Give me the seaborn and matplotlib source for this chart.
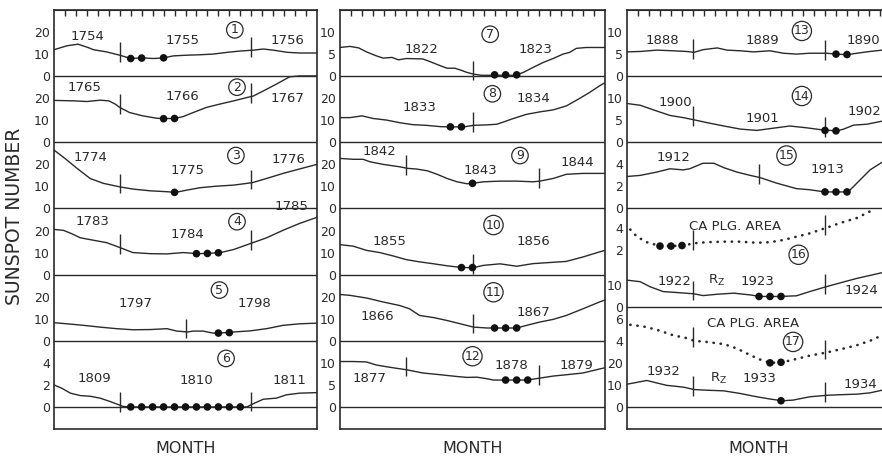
import matplotlib
matplotlib.use("Agg")
import numpy as np
import pandas as pd
import matplotlib.pyplot as plt
from matplotlib.ticker import MultipleLocator
import seaborn as sns

# ---------------------------------------------------------------------------
# Data.  month = position inside the 24-month window of
# each panel column, value = sunspot number (or Ca plage area).
# *_min = months flagged as minimum (filled dots), *_jan = January marks.
# ---------------------------------------------------------------------------
c1_month = [0, 1.2, 2.2, 3.1, 3.6, 4.8, 6.0, 7.0, 8.0, 9.1, 10.0, 10.9, 12.1, 13.3, 14.5, 15.8, 17.0, 18.2, 19.1, 20.0, 21.3, 22.4, 24]
c1_value = [12.0, 13.8, 14.5, 13.0, 12.0, 11.0, 9.5, 8.0, 8.3, 8.0, 8.3, 9.2, 9.5, 9.7, 10.0, 10.8, 11.4, 11.8, 12.3, 11.8, 10.8, 10.5, 10.5]
c1_min, c1_min_val = [7, 8, 10], [8.0, 8.2, 8.3]
c1_years, c1_jan = ["1754", "1755", "1756"], [6, 18]

c2_month = [0, 1.8, 3.0, 4.2, 5.0, 5.6, 6.0, 6.9, 8.1, 9.4, 10.0, 11.0, 11.8, 12.7, 13.9, 15.1, 16.4, 17.6, 18.2, 19.1, 20.3, 21.5, 22.4, 24]
c2_value = [19.0, 18.8, 18.5, 19.1, 18.8, 17.3, 15.8, 13.5, 12.0, 10.9, 10.8, 10.8, 11.7, 13.5, 15.8, 17.3, 18.8, 20.3, 21.0, 23.3, 26.4, 29.7, 30.1, 30.1]
c2_min, c2_min_val = [10, 11], [10.7, 10.8]
c2_years, c2_jan = ["1765", "1766", "1767"], [6, 18]

c3_month = [0, 1.0, 2.1, 3.3, 4.5, 6.0, 7.2, 8.8, 10.3, 11.1, 12.1, 13.3, 14.8, 16.4, 18.1, 19.4, 20.9, 22.4, 24]
c3_value = [26.5, 22.7, 18.2, 13.6, 11.4, 9.8, 8.8, 8.0, 7.6, 7.3, 8.3, 9.4, 10.1, 10.6, 11.7, 13.6, 15.9, 17.9, 20.0]
c3_min, c3_min_val = [11], [7.3]
c3_years, c3_jan = ["1774", "1775", "1776"], [6, 18]

c4_month = [0, 0.85, 1.6, 2.4, 3.6, 4.8, 6.0, 7.2, 8.8, 10.3, 11.8, 13.2, 15.1, 16.4, 18.1, 19.4, 20.9, 22.4, 24]
c4_value = [20.5, 20.1, 18.6, 16.7, 15.6, 14.5, 12.3, 10.0, 9.5, 9.4, 10.0, 9.5, 9.9, 11.4, 14.4, 16.7, 20.1, 23.2, 26.0]
c4_min, c4_min_val = [13, 14, 15], [9.5, 9.6, 9.9]
c4_years, c4_jan = ["1783", "1784", "1785"], [6, 18]

c5_month = [0, 1.2, 2.7, 4.2, 5.7, 7.2, 8.8, 10.3, 11.2, 12.2, 12.7, 13.6, 14.5, 15.1, 16.4, 17.9, 19.4, 20.9, 22.4, 24]
c5_value = [8.2, 7.7, 7.0, 6.2, 5.5, 5.0, 5.1, 5.5, 4.4, 4.0, 4.4, 4.4, 3.5, 3.5, 4.0, 4.5, 5.5, 7.0, 7.7, 8.0]
c5_min, c5_min_val = [15, 16], [3.5, 3.7]
c5_years, c5_jan = ["1797", "1798"], [12]

c6_month = [0, 0.7, 1.5, 2.4, 3.3, 4.2, 5.1, 5.9, 6.3, 6.9, 17.6, 18.2, 19.1, 20.3, 21.2, 22.4, 24]
c6_value = [2.0, 1.7, 1.25, 1.03, 0.97, 0.8, 0.5, 0.2, 0.05, 0, 0, 0.3, 0.7, 0.8, 1.1, 1.25, 1.3]
c6_min = [7, 8, 9, 10, 11, 12, 13, 14, 15, 16, 17]
c6_min_val = [0, 0, 0, 0, 0, 0, 0, 0, 0, 0, 0]
c6_years, c6_jan = ["1809", "1810", "1811"], [6, 18]

c7_month = [0, 0.9, 1.7, 2.4, 3.3, 3.9, 4.7, 5.3, 6.0, 7.5, 8.2, 9.1, 9.7, 10.4, 10.9, 11.5, 12.1, 12.8, 15.9, 16.6, 17.5, 18.4, 19.3, 20.2, 20.8, 21.4, 22.3, 24]
c7_value = [6.5, 6.75, 6.4, 5.5, 4.6, 4.1, 4.25, 3.7, 4.0, 3.9, 3.25, 2.35, 1.8, 1.8, 1.4, 0.85, 0.45, 0.2, 0.2, 0.85, 2.0, 3.1, 4.0, 5.0, 5.4, 6.3, 6.5, 6.5]
c7_min, c7_min_val = [14, 15, 16], [0.3, 0.3, 0.3]
c7_years, c7_jan = ["1822", "1823"], [12]

c8_month = [0, 0.9, 2.0, 3.0, 4.2, 5.4, 6.6, 7.8, 9.1, 10.1, 11.2, 12.1, 13.3, 14.2, 14.8, 15.7, 16.9, 18.1, 19.3, 20.5, 21.7, 22.6, 23.5, 24]
c8_value = [11.2, 11.2, 12.0, 10.8, 10.1, 8.9, 8.0, 7.7, 7.1, 7.0, 7.0, 7.7, 7.9, 8.2, 9.2, 10.8, 12.7, 13.8, 14.7, 16.5, 19.9, 22.6, 25.6, 27.0]
c8_min, c8_min_val = [10, 11], [7.0, 7.0]
c8_years, c8_jan = ["1833", "1834"], [12]

c9_month = [0, 1.2, 2.1, 2.7, 3.9, 5.4, 6.1, 6.9, 7.9, 8.8, 9.7, 10.6, 11.5, 12.0, 13.0, 14.5, 16.0, 17.5, 18.1, 19.3, 20.5, 22.0, 24]
c9_value = [22.7, 22.3, 22.3, 21.2, 20.0, 18.9, 18.2, 17.9, 17.1, 15.5, 13.6, 12.1, 11.2, 11.4, 12.1, 12.4, 12.4, 12.1, 12.4, 13.6, 15.5, 15.9, 15.9]
c9_min, c9_min_val = [12], [11.4]
c9_years, c9_jan = ["1842", "1843", "1844"], [6, 18]

c10_month = [0, 1.2, 2.4, 3.6, 4.8, 6.0, 7.2, 8.5, 9.7, 11.1, 12.1, 13.0, 14.5, 16.0, 17.5, 19.0, 20.5, 22.0, 23.5, 24]
c10_value = [13.6, 12.9, 11.0, 10.0, 8.5, 6.8, 5.8, 4.9, 4.0, 3.2, 3.2, 4.2, 4.9, 3.8, 5.0, 5.5, 6.0, 8.0, 10.3, 11.0]
c10_min, c10_min_val = [11, 12], [3.2, 3.2]
c10_years, c10_jan = ["1855", "1856"], [12]

c11_month = [0, 0.9, 2.4, 3.9, 5.4, 6.3, 7.2, 8.5, 9.7, 10.9, 12.1, 13.3, 16.0, 16.9, 18.1, 19.3, 20.5, 22.0, 23.5, 24]
c11_value = [21.0, 20.6, 19.4, 17.6, 16.0, 14.5, 11.5, 10.5, 9.2, 7.7, 6.2, 5.8, 5.8, 7.0, 8.5, 9.7, 11.5, 14.5, 17.6, 18.5]
c11_min, c11_min_val = [14, 15, 16], [5.8, 5.8, 5.8]
c11_years, c11_jan = ["1866", "1867"], [12]

c12_month = [0, 1.2, 2.4, 3.3, 4.5, 6.1, 7.5, 9.1, 10.6, 11.5, 12.4, 13.3, 13.9, 16.9, 18.0, 19.3, 20.5, 22.0, 23.5, 24]
c12_value = [10.3, 10.3, 10.2, 9.5, 9.0, 8.4, 7.7, 7.3, 6.9, 6.7, 6.75, 6.4, 6.1, 6.1, 6.5, 7.0, 7.3, 7.7, 8.6, 8.9]
c12_min, c12_min_val = [15, 16, 17], [6.1, 6.1, 6.1]
c12_years, c12_jan = ["1877", "1878", "1879"], [6, 18]

c13_month = [0, 1.2, 2.7, 4.2, 5.4, 6.1, 6.9, 8.2, 9.1, 10.3, 11.5, 13.0, 14.2, 15.4, 16.6, 18.1, 19.1, 20.0, 20.9, 22.1, 23.2, 24]
c13_value = [5.5, 5.6, 5.9, 5.75, 5.6, 5.4, 6.0, 6.4, 5.9, 5.75, 5.5, 5.75, 5.2, 5.0, 5.2, 5.2, 5.0, 4.85, 5.2, 5.6, 5.9, 6.0]
c13_min, c13_min_val = [19, 20], [5.0, 4.9]
c13_years, c13_jan = ["1888", "1889", "1890"], [6, 18]

c14_month = [0, 1.2, 2.7, 3.9, 5.1, 6.1, 7.2, 8.8, 10.3, 11.8, 13.0, 14.8, 16.3, 17.8, 19.1, 19.7, 20.6, 21.8, 23.2, 24]
c14_value = [8.8, 8.4, 7.1, 6.1, 5.6, 5.1, 4.5, 3.7, 3.0, 2.7, 3.1, 3.7, 3.3, 2.8, 2.6, 3.0, 3.9, 4.1, 4.8, 5.0]
c14_min, c14_min_val = [18, 19], [2.7, 2.6]
c14_years, c14_jan = ["1900", "1901", "1902"], [6, 18]

c15_month = [0, 1.2, 2.7, 3.9, 5.1, 5.7, 6.9, 7.9, 8.8, 10.0, 11.2, 12.1, 13.6, 15.4, 16.6, 18.0, 20.1, 20.9, 22.1, 23.2, 24]
c15_value = [2.9, 3.0, 3.3, 3.6, 3.5, 3.6, 4.1, 4.1, 3.7, 3.3, 3.0, 2.8, 2.3, 1.8, 1.7, 1.5, 1.5, 2.3, 3.5, 4.2, 4.6]
c15_min, c15_min_val = [18, 19, 20], [1.5, 1.5, 1.5]
c15_years, c15_jan = ["1912", "1913"], [12]

# cycle 16: Ca plage area (dotted) and Rz
c16ca_month = [0.3, 0.9, 1.8, 3.0, 4.1, 5.1, 6.1, 7.2, 8.8, 10.3, 11.8, 13.0, 14.2, 15.4, 16.6, 18.1, 19.4, 20.9, 22.1]
c16ca_value = [3.85, 3.2, 2.7, 2.35, 2.35, 2.4, 2.6, 2.7, 2.75, 2.75, 2.65, 2.7, 2.9, 3.2, 3.5, 4.0, 4.45, 4.9, 5.5]
c16ca_min, c16ca_min_val = [3, 4, 5], [2.35, 2.35, 2.4]
c16ca_jan = [6, 18]

c16_month = [0, 1.2, 2.1, 3.3, 4.5, 6.1, 6.9, 8.2, 9.7, 11.2, 12.1, 13.9, 15.4, 16.6, 18.1, 19.7, 20.9, 23.2, 24]
c16_value = [12.0, 11.3, 9.0, 6.8, 6.4, 5.8, 5.0, 5.6, 6.1, 5.3, 4.6, 4.6, 4.9, 6.8, 9.0, 11.2, 12.8, 15.4, 16.0]
c16_min, c16_min_val = [12, 13, 14], [4.6, 4.6, 4.6]
c16_years, c16_jan = ["1922", "1923", "1924"], [6, 18]

# cycle 17: Ca plage area (dotted) and Rz
c17ca_month = [0.3, 1.5, 2.7, 4.2, 5.4, 6.1, 7.2, 8.8, 10.0, 11.2, 12.1, 13.0, 14.1, 15.4, 16.6, 18.2, 19.7, 20.9, 22.1, 23.2, 24]
c17ca_value = [5.45, 5.3, 5.0, 4.5, 4.25, 4.0, 3.9, 3.7, 3.3, 2.7, 2.3, 2.0, 2.05, 2.35, 2.65, 2.95, 3.3, 3.6, 4.0, 4.5, 4.8]
c17ca_min, c17ca_min_val = [13, 14], [2.0, 2.05]
c17ca_jan = [6, 18]

c17_month = [0, 1.8, 3.6, 5.1, 6.1, 7.2, 8.8, 10.3, 11.8, 13.0, 14.1, 15.1, 16.6, 18.2, 19.7, 20.9, 22.1, 23.2, 24]
c17_value = [10.3, 12.0, 9.8, 9.0, 7.9, 7.6, 7.3, 6.1, 4.6, 3.6, 2.8, 3.1, 4.6, 5.3, 5.6, 5.8, 6.4, 7.6, 8.5]
c17_min, c17_min_val = [14], [2.8]
c17_years, c17_jan = ["1932", "1933", "1934"], [6, 18]

ca_label = "CA PLG. AREA"
rz_label = r"$\mathregular{R_Z}$"

# ---------------------------------------------------------------------------
# Layout: column, baseline (grid steps above bottom frame), units per step,
# y tick values, line style
# ---------------------------------------------------------------------------
SERIES = [
    # col, base, scale, month, value, min months, min vals, jan, ticks, dotted
    (0, 16, 10, c1_month, c1_value, c1_min, c1_min_val, c1_jan, [0, 10, 20], False),
    (0, 13, 10, c2_month, c2_value, c2_min, c2_min_val, c2_jan, [0, 10, 20], False),
    (0, 10, 10, c3_month, c3_value, c3_min, c3_min_val, c3_jan, [0, 10, 20], False),
    (0, 7, 10, c4_month, c4_value, c4_min, c4_min_val, c4_jan, [0, 10, 20], False),
    (0, 4, 10, c5_month, c5_value, c5_min, c5_min_val, c5_jan, [0, 10, 20], False),
    (0, 1, 2, c6_month, c6_value, c6_min, c6_min_val, c6_jan, [0, 2, 4], False),
    (1, 16, 5, c7_month, c7_value, c7_min, c7_min_val, c7_jan, [0, 5, 10], False),
    (1, 13, 10, c8_month, c8_value, c8_min, c8_min_val, c8_jan, [0, 10, 20], False),
    (1, 10, 10, c9_month, c9_value, c9_min, c9_min_val, c9_jan, [0, 10, 20], False),
    (1, 7, 10, c10_month, c10_value, c10_min, c10_min_val, c10_jan, [0, 10, 20], False),
    (1, 4, 10, c11_month, c11_value, c11_min, c11_min_val, c11_jan, [0, 10, 20], False),
    (1, 1, 5, c12_month, c12_value, c12_min, c12_min_val, c12_jan, [0, 5, 10], False),
    (2, 16, 5, c13_month, c13_value, c13_min, c13_min_val, c13_jan, [0, 5, 10], False),
    (2, 13, 5, c14_month, c14_value, c14_min, c14_min_val, c14_jan, [0, 5, 10], False),
    (2, 10, 2, c15_month, c15_value, c15_min, c15_min_val, c15_jan, [0, 2, 4], False),
    (2, 7.12, 2, c16ca_month, c16ca_value, c16ca_min, c16ca_min_val, c16ca_jan, [2, 4], True),
    (2, 5.55, 10, c16_month, c16_value, c16_min, c16_min_val, c16_jan, [0, 10], False),
    (2, 2, 2, c17ca_month, c17ca_value, c17ca_min, c17ca_min_val, c17ca_jan, [4, 6], True),
    (2, 1, 10, c17_month, c17_value, c17_min, c17_min_val, c17_jan, [0, 10, 20], False),
]
ZERO_LINES = [[16, 13, 10, 7, 4, 1], [16, 13, 10, 7, 4, 1], [16, 13, 10, 5.55, 1]]

# label positions (month, grid y)
LABELS = [
    (0, c1_years, [(3.1, 17.8), (11.7, 17.6), (21.3, 17.6)], "1", (16.5, 18.1)),
    (0, c2_years, [(2.8, 15.5), (11.7, 15.1), (21.3, 15.0)], "2", (16.7, 15.5)),
    (0, c3_years, [(3.3, 12.3), (12.2, 11.7), (21.4, 12.2)], "3", (16.6, 12.4)),
    (0, c4_years, [(3.5, 9.4), (12.2, 8.8), (21.7, 10.1)], "4", (16.7, 9.4)),
    (0, c5_years, [(7.4, 5.7), (18.3, 5.7)], "5", (15.1, 6.3)),
    (0, c6_years, [(3.7, 2.3), (13.0, 2.2), (21.5, 2.2)], "6", (15.7, 3.2)),
    (1, c7_years, [(7.4, 17.2), (17.7, 17.2)], "7", (13.6, 17.9)),
    (1, c8_years, [(7.2, 14.6), (17.5, 15.0)], "8", (13.8, 15.2)),
    (1, c9_years, [(3.6, 12.6), (12.7, 11.7), (21.5, 12.1)], "9", (16.3, 12.4)),
    (1, c10_years, [(4.5, 8.5), (17.5, 8.5)], "10", (13.9, 9.25)),
    (1, c11_years, [(3.4, 5.1), (17.5, 5.3)], "11", (13.9, 6.2)),
    (1, c12_years, [(2.7, 2.3), (15.5, 2.9), (21.4, 2.9)], "12", (12.0, 3.3)),
    (2, c13_years, [(3.2, 17.6), (12.3, 17.6), (21.5, 17.6)], "13", (15.9, 18.05)),
    (2, c14_years, [(4.4, 14.8), (12.3, 14.1), (21.6, 14.4)], "14", (15.9, 15.1)),
    (2, c15_years, [(4.2, 12.3), (18.2, 11.75)], "15", (14.5, 12.4)),
    (2, c16_years, [(4.3, 6.7), (11.9, 6.7), (21.3, 6.3)], "16", (15.6, 7.9)),
    (2, c17_years, [(3.3, 2.6), (12.0, 2.27), (21.2, 2.04)], "17", (15.1, 3.95)),
]
EXTRA_TEXT = [
    (2, ca_label, (9.8, 9.2)), (2, rz_label, (8.1, 6.75)),
    (2, ca_label, (11.5, 4.8)), (2, rz_label, (8.3, 2.3)),
]

INK = "#2a2a2a"
W, H = 882, 461
COLS_PX = [(54, 317), (340, 605), (627, 891)]
TOP_PX, BOT_PX = 10, 429

sns.set_style("white")
plt.rcParams["font.family"] = ["DejaVu Sans"]
plt.rcParams["text.color"] = INK
plt.rcParams["axes.edgecolor"] = INK

fig = plt.figure(figsize=(W / 100, H / 100), dpi=100)
axes = []
for x0, x1 in COLS_PX:
    ax = fig.add_axes([x0 / W, (H - BOT_PX) / H, (x1 - x0) / W, (BOT_PX - TOP_PX) / H])
    ax.set_xlim(0, 24)
    ax.set_ylim(0, 19)
    for s in ax.spines.values():
        s.set_linewidth(1.2)
        s.set_color(INK)
    ax.xaxis.set_major_locator(MultipleLocator(3))
    ax.xaxis.set_minor_locator(MultipleLocator(1))
    ax.tick_params(axis="x", which="major", direction="in", length=7, width=1, color=INK, labelbottom=False)
    ax.tick_params(axis="x", which="minor", direction="in", length=3.5, width=1, color=INK)
    top = ax.secondary_xaxis("top")
    top.set_xticks(np.arange(1, 24))
    top.tick_params(direction="in", length=4, width=1, color=INK, labeltop=False)
    ax.set_xlabel("MONTH", fontsize=11.5, labelpad=5, color=INK)
    axes.append(ax)

for i, ax in enumerate(axes):
    for z in ZERO_LINES[i]:
        ax.axhline(z, color=INK, lw=1.0, zorder=1)

ytick_pos = [[], [], []]
ytick_lab = [[], [], []]
for col, base, scale, month, value, mins, min_val, jan, ticks, dotted in SERIES:
    ax = axes[col]
    df = pd.DataFrame({"month": month, "y": base + np.asarray(value) / scale})
    if dotted:
        sns.lineplot(data=df, x="month", y="y", ax=ax, color=INK, lw=1.9,
                     linestyle=(0, (0.1, 2.6)), dash_capstyle="round", zorder=2)
    else:
        sns.lineplot(data=df, x="month", y="y", ax=ax, color=INK, lw=1.0, zorder=2)
    dots = pd.DataFrame({"month": mins, "y": base + np.asarray(min_val) / scale})
    sns.scatterplot(data=dots, x="month", y="y", ax=ax, color="#111111", s=30,
                    edgecolor="none", zorder=3)
    yc = np.interp(jan, df["month"], df["y"])
    ax.vlines(jan, yc - 0.3, yc + 0.6, color=INK, lw=1.0, zorder=2)
    for t in ticks:
        ytick_pos[col].append(base + t / scale)
        ytick_lab[col].append(str(t))

for i, ax in enumerate(axes):
    ax.set_yticks(ytick_pos[i], ytick_lab[i])
    ax.tick_params(axis="y", direction="in", length=4, width=1, color=INK,
                   labelsize=9, pad=3, labelcolor=INK)
    ax.set_ylabel("")

for col, years, pos, num, cpos in LABELS:
    ax = axes[col]
    for yr, (x, y) in zip(years, pos):
        ax.text(x, y, yr, ha="center", va="center", fontsize=9.5)
    ax.text(cpos[0], cpos[1], num, ha="center", va="center", fontsize=9,
            bbox=dict(boxstyle="circle,pad=0.14", fc="none", ec=INK, lw=0.9))

for col, txt, (x, y) in EXTRA_TEXT:
    axes[col].text(x, y, txt, ha="center", va="center", fontsize=9.5)

fig.text(15 / W, 1 - 216 / H, "SUNSPOT NUMBER", rotation=90, ha="center",
         va="center", fontsize=13.5, color=INK)

fig.savefig("out.png", dpi=100, facecolor="white")
